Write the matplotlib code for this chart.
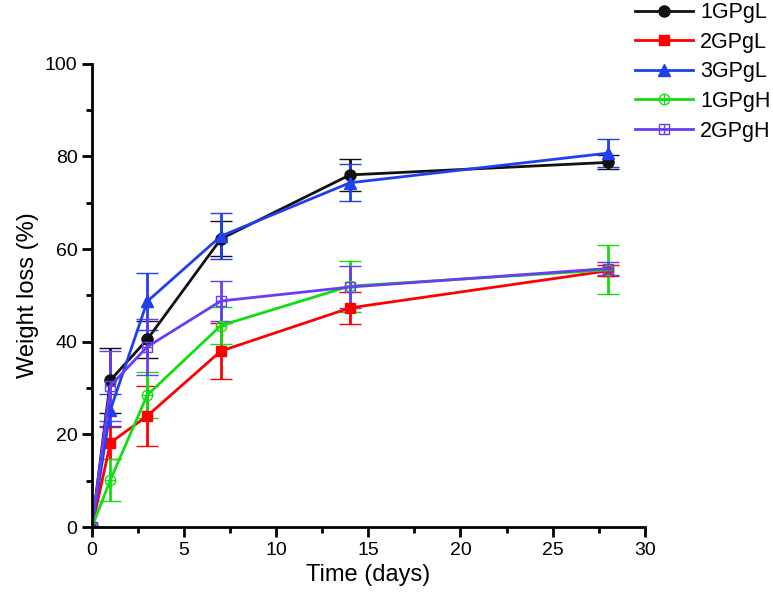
import matplotlib
matplotlib.use("Agg")
import matplotlib.pyplot as plt
from matplotlib.path import Path
from matplotlib.lines import Line2D
from matplotlib.ticker import MultipleLocator
import numpy as np

plt.rcParams['font.family'] = ['Liberation Sans', 'DejaVu Sans']

days = [0, 1, 3, 7, 14, 28]
series_names = ["1GPgL", "2GPgL", "3GPgL", "1GPgH", "2GPgH"]
gp1L = [0, 31.7, 40.5, 62.2, 76.0, 78.7]
gp1L_err = [0, 7.0, 4.0, 3.8, 3.4, 1.5]
gp2L = [0, 18.2, 24.0, 38.0, 47.3, 55.3]
gp2L_err = [0, 3.5, 6.5, 6.0, 3.5, 1.2]
gp3L = [0, 25.3, 48.7, 62.8, 74.3, 80.7]
gp3L_err = [0, 3.5, 6.2, 5.0, 4.0, 3.0]
gp1H = [0, 10.2, 28.5, 43.5, 52.0, 55.5]
gp1H_err = [0, 4.5, 5.0, 4.0, 5.5, 5.3]
gp2H = [0, 30.5, 38.9, 48.8, 51.8, 55.8]
gp2H_err = [0, 7.5, 6.0, 4.3, 4.5, 1.5]

# custom markers: circle with cross, square with cross
circ = Path.unit_circle()
cross_verts = [(-1, 0), (1, 0), (0, -1), (0, 1)]
cross_codes = [Path.MOVETO, Path.LINETO, Path.MOVETO, Path.LINETO]
circ_plus = Path(np.concatenate([circ.vertices, cross_verts]),
                 np.concatenate([circ.codes, cross_codes]))
sq_verts = [(-1, -1), (1, -1), (1, 1), (-1, 1), (-1, -1)]
sq_codes = [Path.MOVETO, Path.LINETO, Path.LINETO, Path.LINETO, Path.CLOSEPOLY]
sq_plus = Path(sq_verts + cross_verts, sq_codes + cross_codes)

fig = plt.figure(figsize=(7.73, 6.01), dpi=100)
ax = fig.add_axes([0.119, 0.123, 0.715, 0.771])

styles = [
    (gp1L, gp1L_err, "#111111", "o", True, 8),
    (gp2L, gp2L_err, "#FF0000", "s", True, 7.5),
    (gp3L, gp3L_err, "#1F3FF0", "^", True, 8.5),
    (gp1H, gp1H_err, "#11DD11", circ_plus, False, 7.5),
    (gp2H, gp2H_err, "#6B3CF5", sq_plus, False, 7),
]
handles = []
for name, (y, e, c, m, filled, ms) in zip(series_names, styles):
    ax.errorbar(days, y, yerr=e, color=c, marker=m, markersize=ms,
                markerfacecolor=c if filled else 'none', markeredgecolor=c,
                markeredgewidth=1.0, lw=2, elinewidth=2, capsize=8, capthick=2)
    handles.append(Line2D([], [], color=c, marker=m, markersize=ms,
                          markerfacecolor=c if filled else 'none',
                          markeredgecolor=c, markeredgewidth=1.0, lw=2))

ax.set_xlim(0, 30)
ax.set_ylim(0, 100)
ax.xaxis.set_major_locator(MultipleLocator(5))
ax.xaxis.set_minor_locator(MultipleLocator(2.5))
ax.yaxis.set_major_locator(MultipleLocator(20))
ax.yaxis.set_minor_locator(MultipleLocator(10))
ax.spines['top'].set_visible(False)
ax.spines['right'].set_visible(False)
for s in ['left', 'bottom']:
    ax.spines[s].set_linewidth(2)
ax.tick_params(which='major', length=7, width=2, labelsize=14, direction='out')
ax.tick_params(which='minor', length=4, width=2, direction='out')
ax.set_xlabel("Time (days)", fontsize=17)
ax.set_ylabel("Weight loss (%)", fontsize=17)

leg = fig.legend(handles, series_names, loc='upper right', bbox_to_anchor=(1.0, 1.0),
                 frameon=False, fontsize=15.5, handlelength=2.7, labelspacing=0.4,
                 handletextpad=0.35, borderaxespad=0.0, borderpad=0.1)
fig.savefig("out.png", dpi=100)
